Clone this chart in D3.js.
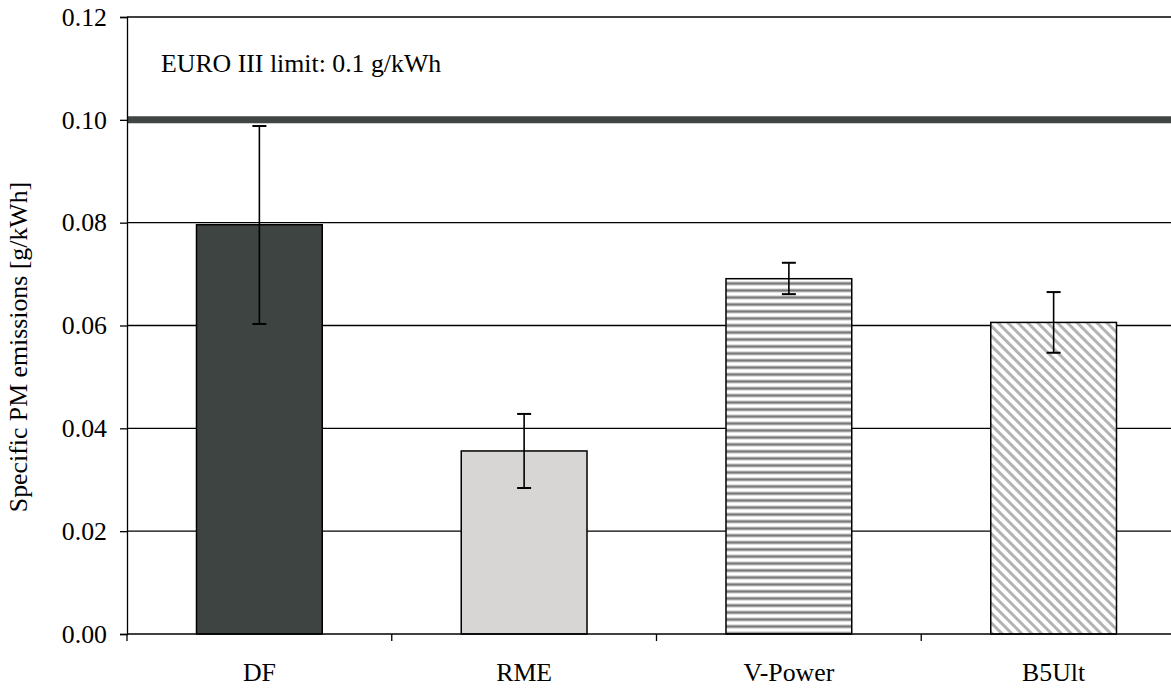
<!DOCTYPE html>
<html>
<head>
<meta charset="utf-8">
<script src="https://cdn.jsdelivr.net/npm/d3@7"></script>
<style>
  body { margin: 0; background: #fff; }
  svg { display: block; }
  svg text { font-family: "Liberation Serif", "Times New Roman", serif; fill: #000; }
</style>
</head>
<body>
<div id="chart"></div>
<script>
// chart data
const fuels = ["DF", "RME", "V-Power", "B5Ult"];
const pmMean = [0.0796, 0.0356, 0.0691, 0.0606];
const pmLow = [0.0603, 0.0284, 0.0661, 0.0547];
const pmHigh = [0.0988, 0.0428, 0.0722, 0.0665];
const yTicks = [0, 0.02, 0.04, 0.06, 0.08, 0.10, 0.12];
const euroLimit = 0.1;

const width = 1171, height = 690;
const plotLeft = 127, plotTop = 17, plotBottom = 634;
const fontSize = "25.8px";

const svg = d3.select("#chart").append("svg")
  .attr("width", width)
  .attr("height", height);

const defs = svg.append("defs");

// horizontal stripes for V-Power
const hp = defs.append("pattern")
  .attr("id", "hstripe")
  .attr("patternUnits", "userSpaceOnUse")
  .attr("width", 8).attr("height", 7);
hp.append("rect").attr("width", 8).attr("height", 7).attr("fill", "#fff");
hp.append("rect").attr("y", 1.5).attr("width", 8).attr("height", 4).attr("fill", "#c4c4c4");
hp.append("rect").attr("y", 2.5).attr("width", 8).attr("height", 2).attr("fill", "#7a7a7a");

// diagonal stripes for B5Ult
const dp = defs.append("pattern")
  .attr("id", "dstripe")
  .attr("patternUnits", "userSpaceOnUse")
  .attr("width", 7).attr("height", 7)
  .attr("patternTransform", "rotate(-45)");
dp.append("rect").attr("width", 7).attr("height", 7).attr("fill", "#fff");
dp.append("rect").attr("width", 3).attr("height", 7).attr("fill", "#b3b3b3");

const fills = ["#3d4441", "#d7d6d4", "url(#hstripe)", "url(#dstripe)"];

const x = d3.scaleBand()
  .domain(fuels)
  .range([plotLeft, 1186])
  .paddingInner(0.525)
  .paddingOuter(0.2625);

const y = d3.scaleLinear()
  .domain([0, 0.12])
  .range([plotBottom, plotTop]);

// gridlines
svg.append("g")
  .selectAll("line")
  .data(yTicks.filter(d => d > 0))
  .enter()
  .append("line")
  .attr("x1", plotLeft).attr("x2", width)
  .attr("y1", d => y(d)).attr("y2", d => y(d))
  .attr("stroke", "#000")
  .attr("stroke-width", 1.3);

// EURO III limit line
svg.append("line")
  .attr("x1", plotLeft).attr("x2", width)
  .attr("y1", y(euroLimit)).attr("y2", y(euroLimit))
  .attr("stroke", "#3f4643")
  .attr("stroke-width", 7);

svg.append("text")
  .attr("x", 161)
  .attr("y", 72)
  .attr("font-size", fontSize)
  .text("EURO III limit: 0.1 g/kWh");

// bars
svg.append("g")
  .selectAll("rect")
  .data(fuels)
  .enter()
  .append("rect")
  .attr("x", d => x(d))
  .attr("y", (d, i) => y(pmMean[i]))
  .attr("width", x.bandwidth())
  .attr("height", (d, i) => plotBottom - y(pmMean[i]))
  .attr("fill", (d, i) => fills[i])
  .attr("stroke", "#000")
  .attr("stroke-width", 1.5);

// error bars
const eb = svg.append("g")
  .selectAll("g")
  .data(fuels)
  .enter()
  .append("g")
  .attr("stroke", "#000")
  .attr("stroke-width", 1.6);

eb.append("line")
  .attr("x1", d => x(d) + x.bandwidth() / 2)
  .attr("x2", d => x(d) + x.bandwidth() / 2)
  .attr("y1", (d, i) => y(pmLow[i]))
  .attr("y2", (d, i) => y(pmHigh[i]));

eb.selectAll(".cap")
  .data((d, i) => [pmLow[i], pmHigh[i]].map(v => ({ c: x(d) + x.bandwidth() / 2, v })))
  .enter()
  .append("line")
  .attr("class", "cap")
  .attr("x1", d => d.c - 7)
  .attr("x2", d => d.c + 7)
  .attr("y1", d => y(d.v))
  .attr("y2", d => y(d.v))
  .attr("stroke-width", 2);

// y axis
const yAxis = svg.append("g")
  .attr("transform", `translate(${plotLeft},0)`)
  .call(d3.axisLeft(y)
    .tickValues(yTicks)
    .tickFormat(d3.format(".2f"))
    .tickSize(7)
    .tickPadding(13));
yAxis.select(".domain").attr("stroke-width", 1.3);
yAxis.selectAll(".tick line").attr("stroke-width", 1.3);
yAxis.selectAll("text")
  .attr("font-size", fontSize);

// x axis with ticks on band boundaries
svg.append("line")
  .attr("x1", plotLeft).attr("x2", width)
  .attr("y1", plotBottom).attr("y2", plotBottom)
  .attr("stroke", "#000")
  .attr("stroke-width", 1.3);

const boundaries = fuels.map(d => x(d) - x.step() * x.paddingInner() / 2);
svg.append("g")
  .selectAll("line")
  .data(boundaries)
  .enter()
  .append("line")
  .attr("x1", d => d).attr("x2", d => d)
  .attr("y1", plotBottom).attr("y2", plotBottom + 7)
  .attr("stroke", "#000")
  .attr("stroke-width", 1.3);

svg.append("g")
  .selectAll("text")
  .data(fuels)
  .enter()
  .append("text")
  .attr("x", d => x(d) + x.bandwidth() / 2)
  .attr("y", 681)
  .attr("text-anchor", "middle")
  .attr("font-size", fontSize)
  .text(d => d);

// y axis title
svg.append("text")
  .attr("transform", "translate(27,347) rotate(-90)")
  .attr("text-anchor", "middle")
  .attr("font-size", fontSize)
  .text("Specific PM emissions [g/kWh]");
</script>
</body>
</html>
